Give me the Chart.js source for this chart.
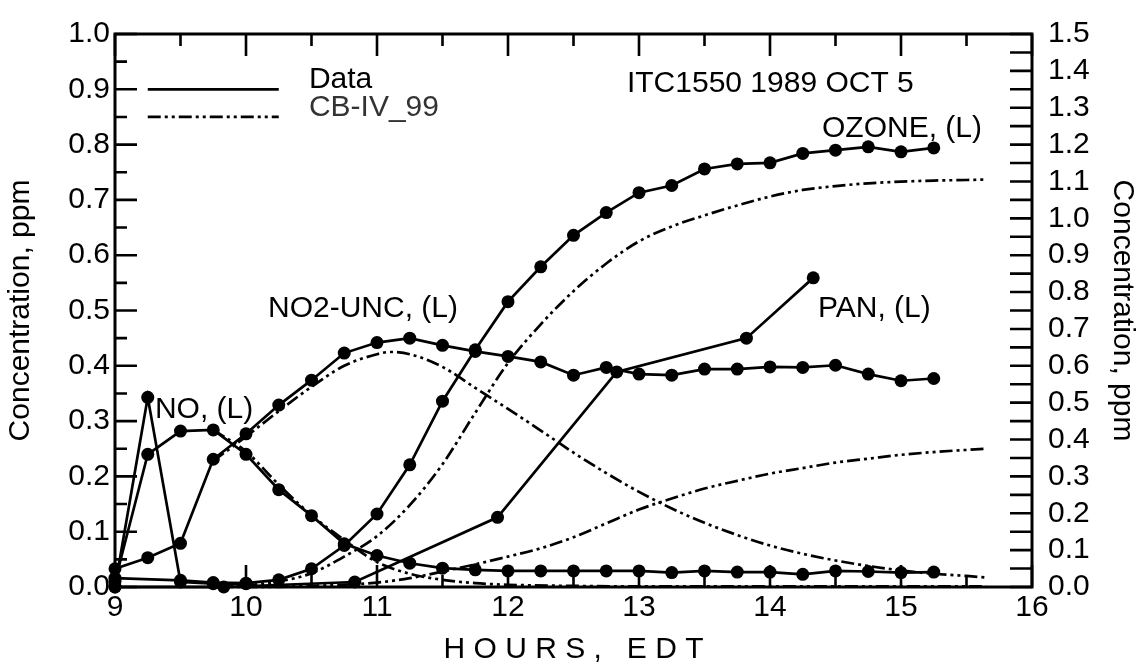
<!DOCTYPE html>
<html>
<head>
<meta charset="utf-8">
<title>ITC1550 1989 OCT 5</title>
<script src="https://cdn.jsdelivr.net/npm/chart.js@4.4.1/dist/chart.umd.min.js"></script>
<style>
  html, body { margin: 0; padding: 0; background: #fff; }
  #wrap { width: 1143px; height: 671px; }
</style>
</head>
<body>
<div id="wrap"><canvas id="chart" width="1143" height="671"></canvas></div>
<script>
'use strict';

// ── Measured data (ppm vs hour, EDT) ─────────────────────────────────────
const ozoneHours = [9.0, 9.5, 9.75, 10.0, 10.25, 10.5, 10.75, 11.0, 11.25, 11.5, 11.75, 12.0, 12.25, 12.5, 12.75, 13.0, 13.25, 13.5, 13.75, 14.0, 14.25, 14.5, 14.75, 15.0, 15.25];
const ozoneData  = [0.016, 0.012, 0.008, 0.007, 0.013, 0.033, 0.075, 0.132, 0.221, 0.336, 0.429, 0.516, 0.579, 0.636, 0.677, 0.713, 0.726, 0.756, 0.765, 0.767, 0.784, 0.790, 0.796, 0.787, 0.794];

const no2Hours = [9.0, 9.25, 9.5, 9.75, 10.0, 10.25, 10.5, 10.75, 11.0, 11.25, 11.5, 11.75, 12.0, 12.25, 12.5, 12.75, 13.0, 13.25, 13.5, 13.75, 14.0, 14.25, 14.5, 14.75, 15.0, 15.25];
const no2Data  = [0.033, 0.053, 0.079, 0.231, 0.277, 0.329, 0.374, 0.423, 0.442, 0.450, 0.437, 0.426, 0.417, 0.407, 0.383, 0.397, 0.385, 0.383, 0.394, 0.394, 0.398, 0.397, 0.401, 0.385, 0.373, 0.377];

const humpHours = [9.0, 9.25, 9.5, 9.75, 10.0, 10.25, 10.5, 10.75, 11.0, 11.25, 11.5, 11.75, 12.0, 12.25, 12.5, 12.75, 13.0, 13.25, 13.5, 13.75, 14.0, 14.25, 14.5, 14.75, 15.0, 15.25];
const humpData  = [0.010, 0.240, 0.282, 0.284, 0.240, 0.176, 0.129, 0.078, 0.057, 0.043, 0.034, 0.031, 0.029, 0.029, 0.029, 0.029, 0.029, 0.026, 0.029, 0.027, 0.027, 0.023, 0.029, 0.028, 0.026, 0.027];

const noHours = [9.0, 9.25, 9.5, 9.75, 10.0];
const noData  = [0.000, 0.343, 0.009, 0.006, 0.006];

const panHours = [9.0, 9.83, 10.83, 11.92, 12.83, 13.82, 14.33];
const panData  = [0.000, 0.000, 0.009, 0.126, 0.389, 0.450, 0.559];

// ── CB-IV_99 model curves ────────────────────────────────────────────────
const mOzoneHours = [9.75, 10.0, 10.25, 10.5, 10.75, 11.0, 11.25, 11.5, 11.75, 12.0, 12.25, 12.5, 12.75, 13.0, 13.25, 13.5, 13.75, 14.0, 14.25, 14.5, 14.75, 15.0, 15.25, 15.5, 15.65];
const mOzoneData  = [0.000, 0.003, 0.010, 0.025, 0.055, 0.092, 0.148, 0.222, 0.315, 0.405, 0.475, 0.535, 0.585, 0.625, 0.652, 0.672, 0.690, 0.706, 0.718, 0.725, 0.730, 0.733, 0.735, 0.736, 0.737];

const mNo2Hours = [9.75, 10.0, 10.25, 10.5, 10.75, 11.0, 11.1, 11.25, 11.5, 11.75, 12.0, 12.25, 12.5, 12.75, 13.0, 13.25, 13.5, 13.75, 14.0, 14.25, 14.5, 14.75, 15.0, 15.25, 15.5, 15.65];
const mNo2Data  = [0.228, 0.272, 0.318, 0.362, 0.400, 0.421, 0.425, 0.421, 0.398, 0.360, 0.322, 0.283, 0.243, 0.206, 0.172, 0.142, 0.116, 0.094, 0.075, 0.060, 0.048, 0.038, 0.030, 0.024, 0.020, 0.017];

const mHumpHours = [9.75, 10.0, 10.25, 10.5, 10.75, 11.0, 11.25, 11.5, 11.75, 12.0, 12.5, 13.0, 14.0, 15.0, 15.65];
const mHumpData  = [0.284, 0.245, 0.185, 0.130, 0.085, 0.045, 0.024, 0.013, 0.007, 0.004, 0.002, 0.001, 0.001, 0.001, 0.001];

const mPanHours = [9.75, 10.0, 10.5, 11.0, 11.25, 11.5, 11.75, 12.0, 12.25, 12.5, 12.75, 13.0, 13.25, 13.5, 13.75, 14.0, 14.25, 14.5, 14.75, 15.0, 15.25, 15.5, 15.65];
const mPanData  = [0.000, 0.000, 0.002, 0.008, 0.016, 0.028, 0.041, 0.055, 0.070, 0.090, 0.115, 0.140, 0.160, 0.178, 0.192, 0.205, 0.215, 0.225, 0.232, 0.239, 0.244, 0.248, 0.250];

// ── Text labels placed in data space ─────────────────────────────────────
const labelTexts = ['NO, (L)', 'NO2-UNC, (L)', 'PAN, (L)', 'OZONE, (L)', 'ITC1550 1989 OCT 5'];
const labelHours = [9.305, 10.168, 14.366, 14.397, 12.908];
const labelConcs = [0.305, 0.489, 0.489, 0.814, 0.895];

const legendNames = ['Data', 'CB-IV_99'];
const legendConcs = [0.90, 0.85];
const legendSpan  = [9.25, 10.25];
const legendTextHour = 10.48;

// ── Styling ──────────────────────────────────────────────────────────────
const FONT = '"Liberation Sans", Arial, Helvetica, sans-serif';
const FSIZE = 30;
const LINE_W = 2.7;
const MODEL_DASH = [13, 4, 3, 4, 3, 4];

const pairs = (xs, ys) => xs.map((x, i) => ({ x, y: ys[i] }));

function dataSet(xs, ys) {
    return {
        data: pairs(xs, ys), showLine: true, borderColor: '#000', borderWidth: LINE_W,
        pointRadius: 6.5, pointHoverRadius: 6.5, pointBackgroundColor: '#000', pointBorderWidth: 0,
        clip: false, order: 1
    };
}

function modelSet(xs, ys) {
    return {
        data: pairs(xs, ys), showLine: true, borderColor: '#000', borderWidth: LINE_W,
        borderDash: MODEL_DASH, pointRadius: 0, cubicInterpolationMode: 'monotone',
        clip: false, order: 2
    };
}

// frame, inward tick marks, labels and legend
const frameTicks = {
    id: 'frameTicks',
    beforeDatasetsDraw(chart) {
        const { ctx, chartArea: a, scales: { x, y, y2 } } = chart;
        ctx.save();
        ctx.strokeStyle = '#000';
        ctx.lineWidth = 2.6;
        ctx.beginPath();
        for (let h = 18; h <= 32; h++) {
            const px = x.getPixelForValue(h / 2);
            const len = h % 2 === 0 ? 22 : 12;
            ctx.moveTo(px, a.bottom); ctx.lineTo(px, a.bottom - len);
            ctx.moveTo(px, a.top);    ctx.lineTo(px, a.top + len);
        }
        for (let k = 0; k <= 20; k++) {
            const py = y.getPixelForValue(k * 0.05);
            ctx.moveTo(a.left, py); ctx.lineTo(a.left + (k % 2 === 0 ? 22 : 12), py);
        }
        for (let k = 0; k <= 30; k++) {
            const py = y2.getPixelForValue(k * 0.05);
            ctx.moveTo(a.right, py); ctx.lineTo(a.right - 22, py);
        }
        ctx.stroke();
        ctx.lineWidth = 3;
        ctx.strokeRect(a.left, a.top, a.right - a.left, a.bottom - a.top);
        ctx.restore();
    },
    afterDatasetsDraw(chart) {
        const { ctx, scales: { x, y } } = chart;
        ctx.save();
        ctx.font = FSIZE + 'px ' + FONT;
        ctx.fillStyle = '#000';
        ctx.textBaseline = 'alphabetic';
        labelTexts.forEach((t, i) => {
            ctx.fillText(t, x.getPixelForValue(labelHours[i]), y.getPixelForValue(labelConcs[i]));
        });
        // legend
        ctx.strokeStyle = '#000';
        ctx.lineWidth = LINE_W;
        legendNames.forEach((name, i) => {
            const py = y.getPixelForValue(legendConcs[i]);
            ctx.setLineDash(i === 0 ? [] : MODEL_DASH);
            ctx.beginPath();
            ctx.moveTo(x.getPixelForValue(legendSpan[0]), py);
            ctx.lineTo(x.getPixelForValue(legendSpan[1]), py);
            ctx.stroke();
            ctx.fillStyle = i === 0 ? '#000' : '#333';
            ctx.fillText(name, x.getPixelForValue(legendTextHour), py - 1);
        });
        ctx.restore();
    }
};

const tickFmt = v => v.toFixed(1);
const tickFont = { family: FONT, size: FSIZE };
const noGrid = { display: false, drawTicks: false };

new Chart(document.getElementById('chart'), {
    type: 'scatter',
    data: {
        datasets: [
            dataSet(ozoneHours, ozoneData),
            dataSet(no2Hours, no2Data),
            dataSet(humpHours, humpData),
            dataSet(noHours, noData),
            dataSet(panHours, panData),
            modelSet(mOzoneHours, mOzoneData),
            modelSet(mNo2Hours, mNo2Data),
            modelSet(mHumpHours, mHumpData),
            modelSet(mPanHours, mPanData)
        ]
    },
    options: {
        responsive: false, animation: false,
        layout: { padding: { top: 23, left: 0, right: 0, bottom: 0 } },
        font: { family: FONT },
        plugins: { legend: { display: false }, tooltip: { enabled: false } },
        scales: {
            x: {
                type: 'linear', position: 'bottom', min: 9, max: 16,
                grid: noGrid, border: { display: false },
                ticks: { stepSize: 1, padding: 3, autoSkip: false, maxRotation: 0, color: '#000', font: tickFont },
                title: { display: true, text: 'H O U R S ,   E D T', color: '#000', font: tickFont, padding: { top: 0, bottom: 3 } },
                afterFit(s) { s.height = 84; }
            },
            y: {
                position: 'left', min: 0, max: 1,
                grid: noGrid, border: { display: false },
                ticks: { stepSize: 0.1, padding: 5, autoSkip: false, color: '#000', font: tickFont, callback: tickFmt },
                title: { display: true, text: 'Concentration, ppm', color: '#000', font: tickFont, padding: { top: 3, bottom: 0 } },
                afterFit(s) { s.width = 115; }
            },
            y2: {
                position: 'right', min: 0, max: 1.5,
                grid: noGrid, border: { display: false },
                ticks: { stepSize: 0.1, padding: 16, autoSkip: false, color: '#000', font: tickFont, callback: tickFmt },
                title: { display: true, text: 'Concentration, ppm', color: '#000', font: tickFont, padding: { top: 3, bottom: 0 } },
                afterFit(s) { s.width = 111; }
            }
        }
    },
    plugins: [frameTicks]
});
</script>
</body>
</html>
